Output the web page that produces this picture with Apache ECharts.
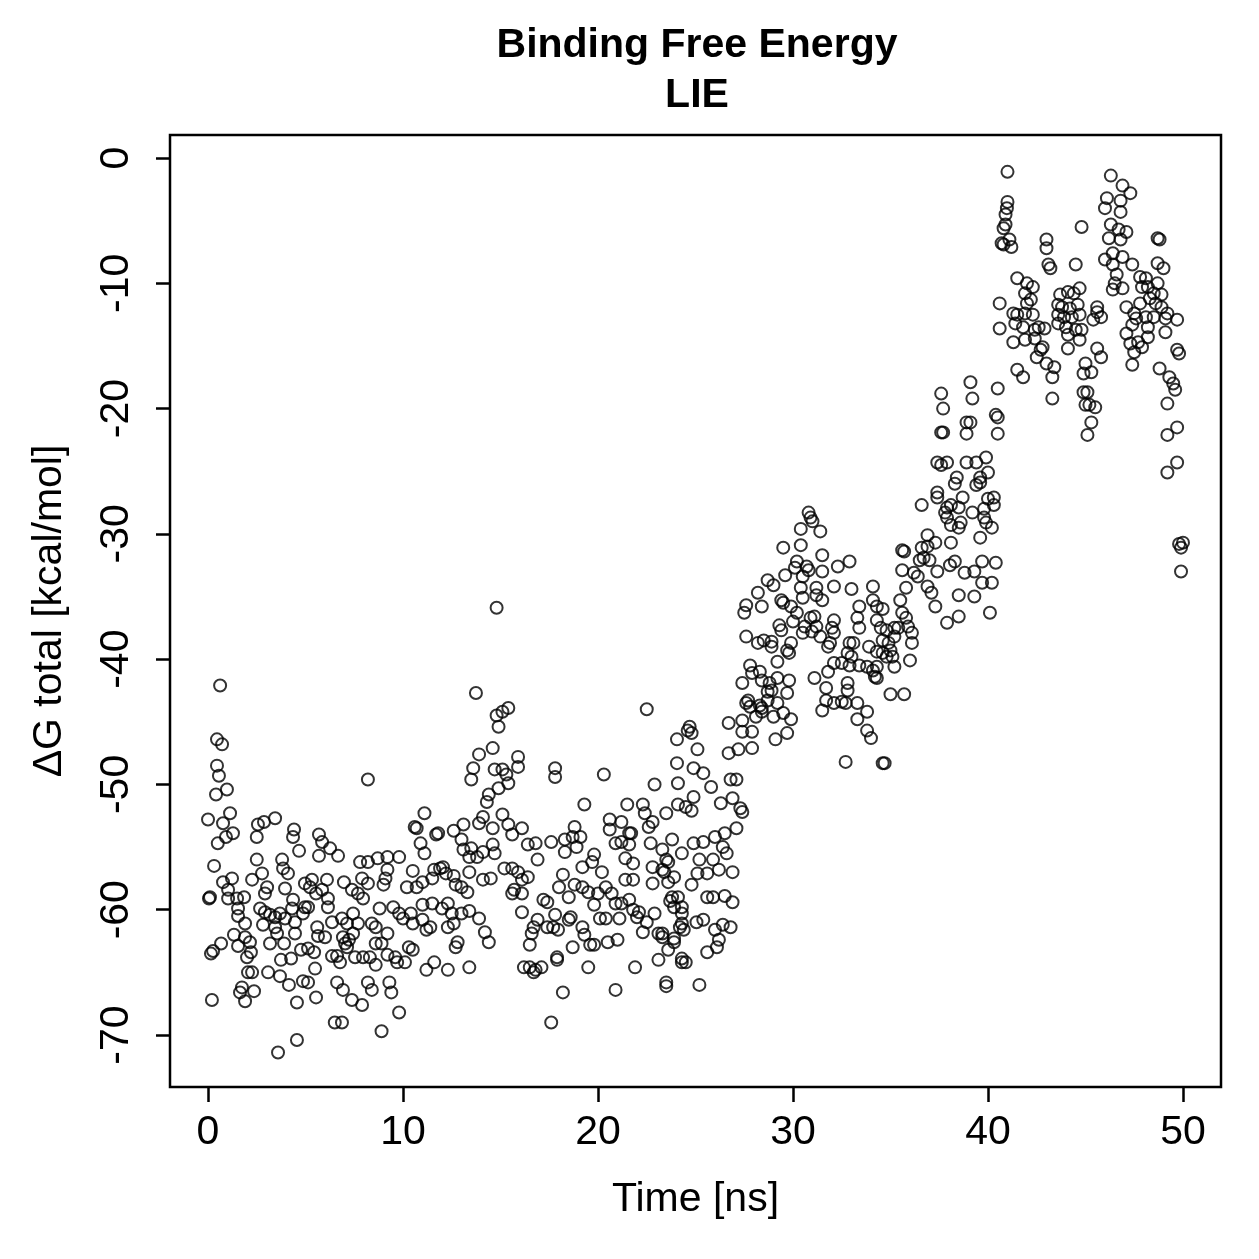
<!DOCTYPE html>
<html>
<head>
<meta charset="utf-8">
<title>Binding Free Energy - LIE</title>
<script src="https://cdn.jsdelivr.net/npm/echarts@6/dist/echarts.min.js"></script>
<style>
  html, body { margin: 0; padding: 0; background: #fff; }
  #chart { width: 1259px; height: 1259px; }
</style>
</head>
<body>
<div id="chart"></div>
<script>
// Data: [time (ns), dG total (kcal/mol)]
const points0to10 = [
  [0.62,-42.1],[0.46,-46.4],[0.72,-46.8],[0.46,-48.5],[0.56,-49.3],[0.41,-50.8],[0.97,-50.4],[0.0,-52.8],[1.13,-52.3],[0.77,-53.1],
  [0.5,-54.7],[0.92,-54.2],[1.28,-53.9],[2.5,-54.2],[2.56,-53.2],[2.87,-53.0],[3.44,-52.7],[0.31,-56.5],[2.5,-56.0],[4.41,-53.6],
  [4.36,-54.2],[4.67,-55.3],[5.69,-54.0],[5.85,-54.6],[6.26,-55.1],[5.69,-55.7],[6.67,-55.7],[0.05,-59.1],[0.1,-59.0],[1.23,-57.5],
  [0.77,-57.8],[1.03,-58.4],[1.03,-59.1],[1.49,-59.1],[1.85,-59.0],[1.54,-59.9],[1.54,-60.5],[1.9,-61.1],[1.33,-62.0],[1.9,-62.2],
  [2.15,-62.6],[1.54,-62.9],[0.67,-62.7],[0.26,-63.3],[0.15,-63.5],[2.2,-63.4],[2.0,-63.8],[2.05,-65.0],[2.26,-65.0],[1.74,-66.2],
  [1.64,-66.6],[1.9,-67.3],[2.36,-66.5],[0.2,-67.2],[2.77,-57.1],[2.26,-57.6],[3.03,-58.2],[2.92,-58.7],[2.67,-59.9],[2.92,-60.2],
  [3.18,-60.4],[3.44,-60.6],[3.69,-60.3],[3.95,-60.7],[2.82,-61.2],[3.44,-61.4],[3.54,-61.9],[3.18,-62.7],[3.9,-62.7],[3.08,-65.0],
  [3.69,-65.3],[4.15,-66.0],[3.74,-64.0],[4.26,-63.9],[3.95,-58.3],[3.8,-56.0],[3.85,-56.7],[4.1,-57.1],[4.36,-59.2],[4.31,-59.9],
  [4.46,-61.0],[4.87,-60.3],[4.97,-59.8],[5.13,-59.8],[4.46,-61.9],[4.97,-57.9],[5.33,-57.6],[5.23,-58.2],[5.54,-58.7],[6.1,-57.6],
  [5.85,-58.4],[6.15,-59.1],[6.15,-59.8],[5.6,-61.4],[5.64,-62.1],[6.0,-62.2],[4.77,-63.2],[5.13,-63.1],[5.44,-63.4],[5.49,-64.7],
  [4.87,-65.7],[5.13,-65.8],[4.56,-67.4],[5.54,-67.0],[6.5,-69.0],[6.87,-69.0],[4.56,-70.4],[3.59,-71.4],[6.36,-61.0],[6.87,-60.7],
  [7.13,-61.1],[6.36,-63.7],[6.62,-63.7],[6.77,-64.2],[7.03,-62.7],[7.23,-62.4],[6.62,-65.8],[6.92,-66.4],[7.38,-67.2],[7.9,-67.6],
  [6.97,-57.8],[7.38,-58.4],[7.69,-58.7],[7.9,-57.5],[7.8,-56.2],[7.44,-60.3],[7.69,-61.1],[7.44,-61.9],[6.92,-62.2],[7.13,-63.0],
  [7.54,-63.8],[7.95,-63.8],[8.2,-49.6],[8.2,-56.2],[8.7,-55.9],[9.2,-55.8],[9.8,-55.8],[9.2,-56.8],[9.1,-57.5],[9.0,-58.0],
  [8.2,-57.9],[7.95,-59.1],[8.4,-61.1],[8.6,-61.4],[8.8,-59.9],[9.5,-59.8],[9.8,-60.3],[10.0,-60.7],[8.6,-62.7],[8.9,-62.7],
  [9.2,-61.9],[8.3,-63.8],[8.6,-64.4],[9.2,-63.6],[9.6,-63.8],[9.7,-64.2],[8.2,-65.8],[8.4,-66.4],[9.3,-65.8],[9.4,-66.6],
  [9.8,-68.2],[8.9,-69.7]
];

const points10to20 = [
  [13.74,-42.7],[14.8,-44.5],[15.1,-44.2],[15.4,-43.9],[14.9,-45.4],[13.9,-47.6],[14.6,-47.1],[13.6,-48.7],[13.5,-49.6],[14.7,-48.8],
  [15.1,-48.8],[15.3,-49.2],[15.4,-49.9],[15.9,-47.8],[15.9,-48.6],[14.4,-50.8],[14.3,-51.4],[14.9,-50.3],[11.1,-52.3],[10.6,-53.4],
  [10.7,-53.5],[11.7,-54.0],[11.8,-53.9],[12.6,-53.7],[13.1,-53.2],[13.9,-53.1],[14.1,-52.6],[14.6,-53.5],[15.1,-52.4],[15.4,-53.2],
  [15.6,-54.0],[16.1,-53.5],[10.9,-54.7],[11.1,-55.5],[13.0,-54.4],[13.1,-55.2],[13.5,-55.1],[13.4,-55.8],[13.8,-55.8],[14.1,-55.4],
  [14.6,-54.8],[14.7,-55.5],[13.4,-57.0],[14.1,-57.6],[14.5,-57.5],[15.2,-56.7],[15.6,-56.7],[15.9,-57.0],[15.7,-58.4],[15.6,-58.7],
  [16.1,-57.6],[16.1,-60.2],[10.5,-56.9],[10.2,-58.2],[10.7,-58.2],[11.0,-57.8],[11.5,-57.5],[11.9,-56.7],[12.05,-56.6],[12.6,-57.3],
  [11.6,-56.8],[12.2,-57.1],[12.7,-58.0],[13.0,-58.2],[13.3,-58.6],[10.4,-60.3],[10.5,-61.1],[11.0,-60.8],[11.2,-61.6],[11.4,-61.4],
  [11.0,-59.6],[11.5,-59.5],[12.0,-59.9],[12.3,-59.5],[12.5,-60.3],[12.3,-61.4],[12.6,-61.1],[13.0,-60.3],[13.4,-60.1],[13.9,-60.7],
  [14.2,-61.8],[14.4,-62.6],[12.7,-63.0],[12.8,-62.6],[11.6,-64.2],[11.2,-64.8],[12.3,-64.8],[13.4,-64.6],[10.1,-64.2],[10.3,-63.0],
  [10.5,-63.2],[14.8,-35.9],[17.8,-48.7],[17.8,-49.4],[19.3,-51.6],[16.4,-54.8],[16.8,-54.7],[17.6,-54.6],[18.3,-54.4],[18.8,-53.4],
  [18.7,-54.2],[19.1,-54.2],[18.9,-55.0],[18.3,-55.4],[16.9,-56.0],[16.4,-57.4],[16.1,-58.7],[19.8,-55.6],[19.7,-56.2],[19.2,-56.6],
  [18.2,-57.2],[18.0,-58.2],[18.8,-58.0],[19.2,-58.2],[19.5,-58.6],[17.2,-59.2],[17.4,-59.4],[17.8,-60.4],[18.5,-59.0],[18.6,-60.6],
  [18.5,-60.8],[16.9,-60.8],[16.7,-61.4],[17.4,-61.4],[17.7,-61.4],[17.95,-61.6],[16.6,-61.9],[19.8,-59.6],[19.2,-61.4],[19.3,-62.0],
  [19.6,-62.8],[19.8,-62.8],[16.5,-62.8],[18.7,-63.0],[17.9,-63.8],[17.9,-64.0],[16.5,-64.6],[16.8,-64.8],[17.1,-64.6],[16.2,-64.6],
  [16.7,-65.0],[19.5,-64.6],[18.2,-66.6],[17.6,-69.0]
];

const points20to30 = [
  [20.3,-49.2],[20.2,-57.0],[20.0,-58.7],[20.4,-58.2],[20.1,-60.7],[20.4,-60.7],[20.5,-62.6],[22.5,-44.0],[24.05,-46.4],[24.05,-48.3],
  [24.1,-49.9],[22.9,-50.0],[24.6,-45.7],[21.5,-51.6],[22.3,-51.6],[22.4,-52.3],[23.5,-52.3],[24.1,-51.6],[20.6,-52.8],[21.2,-53.0],
  [20.6,-53.6],[21.6,-53.9],[22.8,-53.0],[22.6,-53.4],[20.9,-54.7],[21.2,-54.6],[21.7,-53.9],[21.6,-54.8],[21.4,-55.9],[21.8,-56.3],
  [22.7,-54.7],[23.3,-55.2],[23.8,-54.4],[24.3,-55.5],[22.8,-56.6],[23.3,-56.8],[23.5,-56.0],[23.9,-57.4],[22.8,-57.9],[23.6,-57.8],
  [21.4,-57.6],[21.8,-57.6],[20.9,-59.5],[21.2,-59.5],[21.6,-59.2],[20.7,-58.7],[21.1,-60.7],[21.8,-60.0],[22.1,-60.2],[22.0,-60.6],
  [22.9,-60.3],[22.5,-61.0],[22.3,-61.8],[23.1,-61.9],[23.3,-61.9],[23.8,-59.0],[24.1,-59.0],[24.3,-59.8],[24.3,-61.1],[23.9,-62.3],
  [21.0,-62.4],[21.9,-64.6],[23.1,-64.0],[23.6,-63.2],[24.3,-64.2],[20.9,-66.4],[23.5,-66.1],[27.4,-41.9],[27.6,-43.5],[27.8,-43.8],
  [28.3,-43.7],[28.4,-44.2],[28.7,-43.3],[26.7,-45.1],[27.4,-44.9],[27.4,-45.8],[27.9,-45.8],[26.7,-47.5],[27.2,-47.2],[27.9,-47.1],
  [24.7,-45.4],[24.8,-45.9],[25.1,-47.2],[24.9,-48.7],[25.4,-49.1],[25.8,-50.2],[26.8,-49.6],[27.1,-49.6],[24.9,-51.0],[26.3,-51.5],
  [26.9,-51.1],[27.3,-51.9],[27.4,-52.2],[24.5,-51.8],[24.8,-52.1],[27.1,-53.5],[26.5,-53.9],[26.0,-54.2],[25.4,-54.6],[24.9,-54.7],
  [25.2,-56.0],[25.9,-56.0],[26.4,-55.0],[26.6,-55.5],[26.9,-57.0],[26.2,-56.8],[25.6,-57.1],[25.1,-57.1],[24.8,-58.0],[23.6,-56.2],
  [23.4,-57.0],[26.5,-58.9],[26.9,-59.4],[25.6,-59.0],[25.9,-59.0],[23.7,-59.3],[23.9,-59.8],[24.3,-60.3],[25.05,-61.0],[25.4,-60.8],
  [26.0,-61.6],[26.4,-61.2],[26.8,-61.4],[26.2,-62.4],[24.4,-61.6],[24.2,-61.4],[23.9,-62.6],[23.3,-62.2],[24.3,-63.9],[24.5,-64.2],
  [25.6,-63.4],[26.1,-63.0],[23.5,-65.8],[25.2,-66.0],[28.7,-33.7],[29.0,-34.1],[28.2,-34.7],[27.6,-35.7],[27.5,-36.3],[28.4,-35.8],
  [29.4,-35.3],[29.5,-35.5],[29.9,-35.8],[29.6,-33.3],[29.5,-31.1],[27.6,-38.2],[28.2,-38.7],[28.5,-38.5],[28.9,-38.6],[28.9,-39.0],
  [29.3,-37.3],[29.4,-37.7],[29.9,-38.7],[29.7,-39.3],[29.8,-39.5],[29.2,-40.2],[27.8,-40.5],[27.9,-41.1],[28.3,-41.0],[28.4,-41.7],
  [28.8,-41.9],[29.2,-41.5],[29.8,-41.7],[28.7,-42.6],[28.9,-42.5],[29.7,-42.7],[27.7,-43.3],[28.4,-43.9],[29.2,-43.5],[29.0,-44.6],
  [29.5,-44.3],[29.9,-44.8],[28.1,-44.6],[29.1,-46.4],[29.7,-45.9]
];

const points30to40 = [
  [30.8,-28.3],[30.9,-28.7],[31.0,-29.0],[30.4,-29.6],[31.4,-29.8],[30.4,-30.9],[31.5,-31.7],[32.3,-32.6],[32.9,-32.2],[30.2,-32.2],
  [30.7,-32.6],[30.8,-32.9],[30.1,-32.7],[30.5,-33.4],[31.5,-33.0],[30.4,-34.3],[31.2,-34.3],[32.1,-34.2],[33.0,-34.4],[34.1,-34.2],
  [30.5,-35.1],[31.2,-34.9],[31.5,-35.3],[34.1,-35.3],[34.3,-35.8],[34.6,-36.0],[33.4,-35.8],[30.2,-36.3],[30.9,-36.7],[31.1,-36.6],
  [30.0,-37.0],[30.6,-37.4],[31.2,-37.4],[32.1,-36.9],[32.0,-37.5],[33.3,-36.7],[33.4,-37.5],[34.3,-36.9],[34.5,-37.5],[34.8,-37.7],
  [30.5,-37.9],[30.97,-37.8],[31.4,-38.2],[31.8,-39.0],[32.1,-37.9],[31.9,-38.7],[32.9,-38.7],[33.1,-38.7],[32.8,-39.5],[33.0,-39.8],
  [33.9,-39.0],[34.3,-39.4],[34.6,-39.5],[34.8,-39.8],[31.1,-41.5],[31.8,-41.0],[32.1,-40.3],[32.5,-40.3],[32.9,-40.5],[33.4,-40.5],
  [33.8,-40.6],[34.1,-40.9],[34.3,-41.5],[32.8,-41.9],[31.7,-42.3],[32.8,-42.5],[31.7,-43.3],[31.5,-44.1],[32.1,-43.5],[32.5,-43.4],
  [32.7,-43.5],[33.3,-43.5],[33.8,-44.2],[33.3,-44.8],[33.8,-45.7],[34.0,-46.3],[32.7,-48.2],[34.6,-48.3],[34.7,-48.3],
  [37.6,-18.8],[37.7,-20.0],[39.1,-17.9],[39.2,-19.2],[38.9,-21.1],[39.1,-21.1],[37.6,-21.9],[37.7,-21.9],[38.9,-22.0],[37.4,-24.3],
  [37.6,-24.5],[37.9,-24.3],[38.9,-24.3],[39.4,-24.3],[39.9,-23.9],[39.6,-25.5],[38.4,-25.5],[38.3,-26.0],[39.4,-26.1],[39.6,-25.9],
  [37.4,-26.7],[37.4,-27.1],[36.6,-27.7],[37.9,-27.9],[38.1,-27.7],[38.7,-27.1],[38.5,-27.9],[37.8,-28.3],[37.9,-28.7],[39.2,-28.3],
  [39.8,-28.0],[38.1,-29.3],[38.5,-29.5],[38.6,-29.1],[39.8,-28.7],[39.9,-29.1],[38.1,-30.7],[39.6,-30.3],[36.9,-30.1],[37.3,-30.7],
  [35.6,-31.3],[35.7,-31.4],[36.6,-31.1],[36.9,-31.0],[36.5,-32.1],[36.7,-31.9],[37.0,-32.1],[35.6,-32.9],[36.2,-33.1],[36.4,-33.4],
  [37.4,-33.0],[38.05,-32.5],[38.3,-32.2],[38.8,-33.1],[39.3,-33.0],[39.7,-32.2],[39.7,-33.9],[38.5,-34.9],[39.3,-35.0],[37.9,-37.1],
  [38.5,-36.6],[37.1,-34.7],[36.9,-34.2],[37.3,-35.8],[35.5,-35.3],[35.8,-34.3],[35.6,-36.3],[35.8,-36.7],[35.9,-37.4],[35.2,-37.5],
  [35.4,-37.5],[36.1,-37.9],[34.6,-38.5],[34.9,-38.7],[35.2,-38.2],[36.1,-38.7],[35.0,-39.3],[35.1,-39.8],[35.2,-40.6],[34.3,-40.6],
  [34.2,-41.4],[36.0,-40.1],[35.0,-42.8],[35.7,-42.8]
];

const points40to50 = [
  [40.5,-18.4],[40.4,-20.5],[40.5,-20.7],[40.5,-22.0],[40.0,-25.1],[40.0,-27.2],[40.3,-27.1],[40.3,-27.7],[40.2,-29.5],[40.4,-32.3],
  [40.2,-33.9],[40.1,-36.3],[41.0,-1.1],[41.0,-3.5],[40.97,-4.0],[40.9,-4.5],[40.9,-5.3],[40.8,-5.6],[40.7,-6.8],[40.8,-6.9],
  [41.1,-6.5],[41.2,-7.1],[44.8,-5.5],[43.0,-6.5],[43.0,-7.2],[43.1,-8.5],[43.2,-8.8],[44.5,-8.5],[41.5,-9.6],[42.0,-10.0],
  [42.3,-10.3],[41.9,-10.8],[42.2,-11.3],[42.0,-11.6],[40.6,-11.6],[41.3,-12.4],[41.5,-12.5],[41.9,-12.4],[42.3,-12.5],[40.6,-13.6],
  [41.4,-13.2],[41.8,-13.5],[42.4,-13.7],[42.6,-13.5],[42.9,-13.6],[41.3,-14.7],[41.9,-14.5],[42.4,-14.4],[42.7,-15.3],[42.8,-15.1],
  [42.5,-15.9],[43.0,-16.4],[43.4,-16.7],[43.3,-17.5],[41.5,-16.9],[41.8,-17.5],[43.3,-19.2],[43.7,-10.9],[44.1,-10.7],[44.4,-10.8],
  [44.7,-10.4],[43.6,-11.7],[43.8,-11.9],[44.2,-12.0],[44.6,-11.7],[43.6,-12.5],[43.9,-12.7],[44.3,-12.7],[44.7,-12.5],[43.6,-13.2],
  [44.0,-13.5],[44.5,-13.7],[44.8,-13.7],[44.1,-14.1],[44.7,-14.5],[44.1,-15.2],[45.6,-11.9],[45.6,-12.3],[45.4,-12.9],[45.8,-12.7],
  [45.6,-15.2],[45.8,-15.9],[45.0,-16.4],[45.3,-17.1],[44.9,-17.2],[44.9,-18.7],[45.1,-18.7],[45.0,-19.7],[45.2,-19.7],[45.5,-19.9],
  [45.3,-21.1],[45.1,-22.1],[46.3,-1.4],[46.9,-2.2],[47.3,-2.8],[46.1,-3.2],[46.8,-3.4],[46.0,-4.0],[46.8,-4.3],[46.3,-5.3],
  [46.7,-5.7],[47.1,-5.9],[46.2,-6.4],[46.8,-6.5],[48.7,-6.4],[48.8,-6.5],[46.0,-8.1],[46.4,-7.6],[46.9,-7.9],[46.4,-8.5],
  [47.4,-8.5],[46.6,-9.3],[46.5,-10.0],[46.4,-10.5],[46.9,-10.4],[47.1,-11.9],[48.7,-8.4],[49.0,-8.8],[47.8,-9.5],[48.1,-9.6],
  [47.9,-10.3],[48.2,-10.3],[48.7,-10.0],[48.5,-10.8],[48.9,-10.9],[48.3,-11.2],[47.8,-11.6],[48.6,-11.6],[48.9,-11.9],[49.2,-12.4],
  [49.7,-12.9],[47.5,-12.4],[47.6,-12.8],[48.1,-12.7],[48.5,-12.7],[49.1,-12.8],[47.4,-13.3],[48.2,-13.5],[49.1,-13.9],[47.1,-14.0],
  [47.3,-14.8],[47.7,-14.7],[47.5,-15.5],[47.4,-16.5],[47.9,-15.1],[48.2,-14.3],[48.8,-16.8],[49.3,-17.5],[49.5,-18.0],[49.6,-18.5],
  [49.2,-19.6],[49.2,-22.1],[49.7,-21.5],[49.7,-15.3],[49.8,-15.6],[49.2,-25.1],[49.7,-24.3],[49.8,-30.8],[49.9,-31.1],[50.0,-30.7],
  [49.9,-33.0]
];

const timeTicks = [0, 10, 20, 30, 40, 50];
const dGTicks = [0, -10, -20, -30, -40, -50, -60, -70];

const allPoints = points0to10.concat(points10to20, points20to30, points30to40, points40to50);

const font = "'Liberation Sans', Arial, Helvetica, sans-serif";

const chart = echarts.init(document.getElementById("chart"), null, { renderer: "canvas" });

const option = {
  animation: false,
  backgroundColor: "#ffffff",
  title: {
    text: "Binding Free Energy\nLIE",
    left: 697,
    top: 21,
    padding: 0,
    textAlign: "center",
    textStyle: {
      fontFamily: font,
      fontSize: 41,
      fontWeight: "bold",
      color: "#000",
      lineHeight: 50,
    },
  },
  grid: {
    left: 170,
    right: 38,
    top: 135,
    bottom: 172,
    show: true,
    borderColor: "#000",
    borderWidth: 2.5,
    backgroundColor: "transparent",
  },
  xAxis: {
    type: "value",
    min: -1.95,
    max: 51.95,
    name: "Time [ns]",
    nameLocation: "middle",
    nameGap: 92,
    nameTextStyle: { fontFamily: font, fontSize: 41, color: "#000" },
    axisLine: { show: false, onZero: false },
    axisTick: {
      show: true,
      customValues: timeTicks,
      length: 15,
      lineStyle: { color: "#000", width: 2.5 },
    },
    axisLabel: {
      customValues: timeTicks,
      fontFamily: font,
      fontSize: 41,
      color: "#000",
      margin: 25,
    },
    splitLine: { show: false },
  },
  yAxis: {
    type: "value",
    min: -74.15,
    max: 1.84,
    name: "\u0394G total [kcal/mol]",
    nameLocation: "middle",
    nameGap: 100,
    nameTextStyle: { fontFamily: font, fontSize: 41, color: "#000" },
    axisLine: { show: false, onZero: false },
    axisTick: {
      show: true,
      customValues: dGTicks,
      length: 14,
      lineStyle: { color: "#000", width: 2.5 },
    },
    axisLabel: {
      customValues: dGTicks,
      rotate: 90,
      fontFamily: font,
      fontSize: 41,
      color: "#000",
      margin: 33,
    },
    splitLine: { show: false },
  },
  series: [
    {
      type: "scatter",
      data: allPoints,
      symbol: "circle",
      symbolSize: 12,
      itemStyle: {
        color: "rgba(0,0,0,0)",
        borderColor: "#000",
        borderWidth: 2,
      },
      emphasis: { disabled: true },
    },
  ],
};

chart.setOption(option);
</script>
</body>
</html>
